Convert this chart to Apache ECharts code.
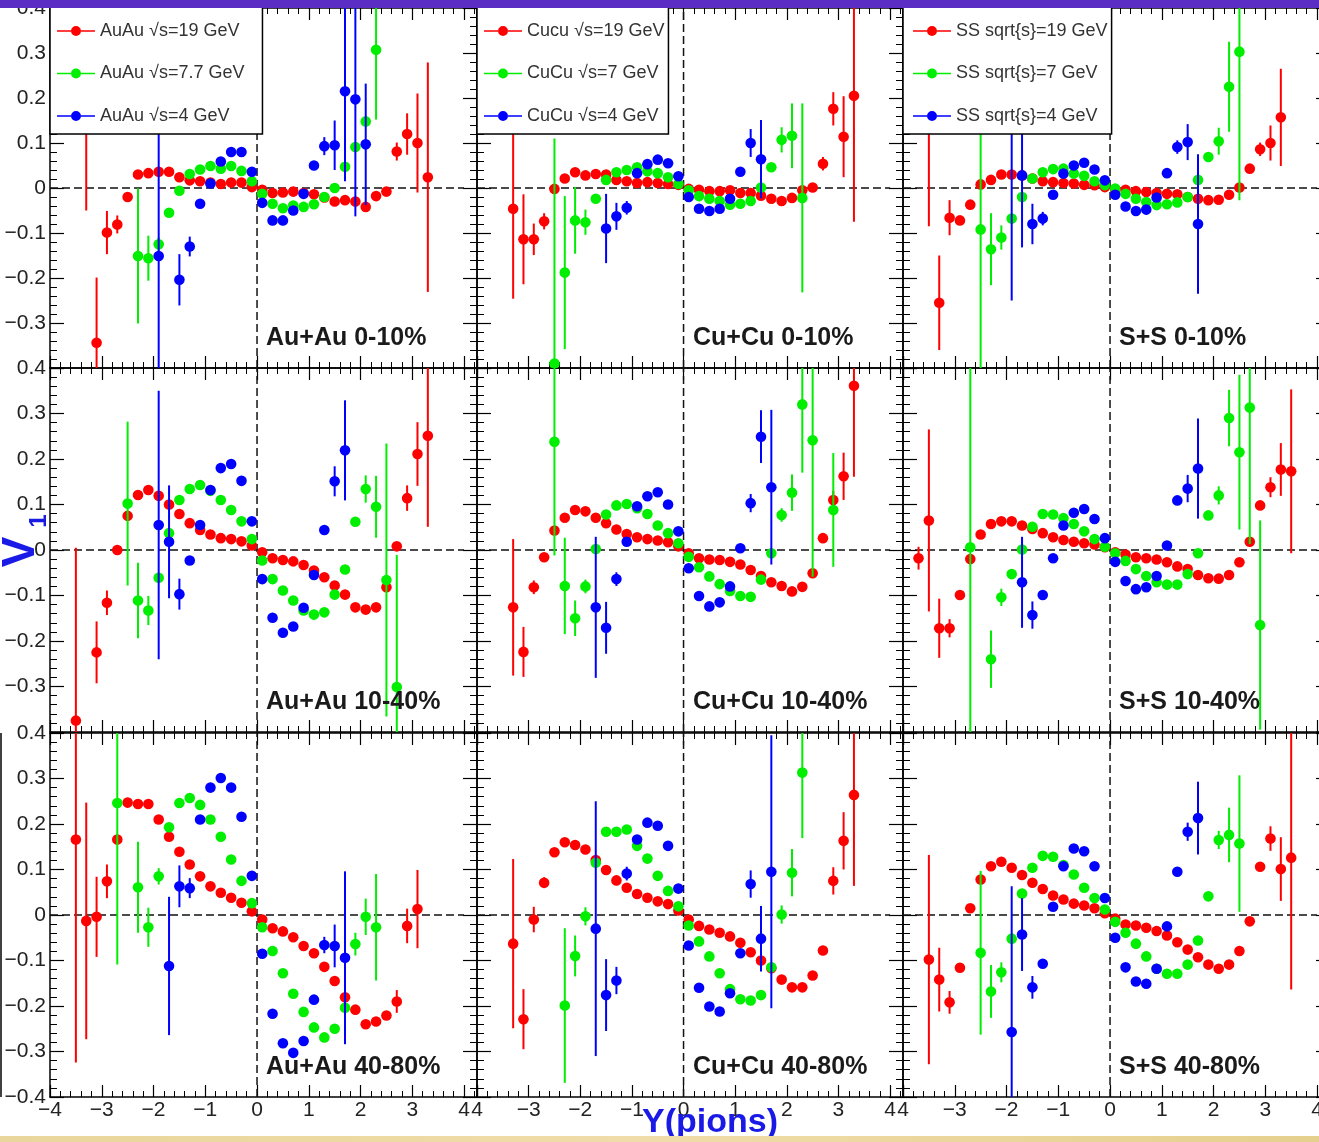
<!DOCTYPE html>
<html>
<head>
<meta charset="utf-8">
<title>v1 vs Y(pions)</title>
<script src="https://cdn.jsdelivr.net/npm/echarts@6.0.0/dist/echarts.min.js"></script>
<style>
    html, body {margin: 0; padding: 0; background: #fff;}
    #chart {width: 1319px; height: 1142px;}
</style>
</head>
<body>
<div id="chart"></div>
<script>
// each point: [Y(pions), v1, error]
// ---- 0-10% ----
const auau0_19 = [[-3.3,0.18,0.23],[-3.1,-0.344,0.145],[-2.9,-0.099,0.048],[-2.7,-0.081,0.02],[-2.5,-0.02,0],[-2.3,0.03,0],[-2.1,0.033,0],[-1.9,0.036,0],[-1.7,0.036,0],[-1.5,0.024,0],[-1.3,0.017,0],[-1.1,0.015,0],[-0.9,0.012,0],[-0.7,0.009,0],[-0.5,0.012,0],[-0.3,0.012,0],[-0.1,0.002,0],
    [0.1,-0.004,0],[0.3,-0.011,0],[0.5,-0.01,0],[0.7,-0.008,0],[0.9,-0.011,0],[1.1,-0.014,0],[1.3,-0.021,0],[1.5,-0.03,0],[1.7,-0.027,0],[1.9,-0.03,0],[2.1,-0.042,0],[2.3,-0.018,0],[2.5,-0.008,0],[2.7,0.081,0.02],[2.9,0.12,0.046],[3.1,0.1,0.11],[3.3,0.024,0.255]];
const auau0_77 = [[-2.3,-0.151,0.15],[-2.1,-0.156,0.05],[-1.9,-0.125,0.015],[-1.7,-0.055,0],[-1.5,-0.006,0],[-1.3,0.031,0],[-1.1,0.041,0],[-0.9,0.049,0],[-0.7,0.043,0],[-0.5,0.049,0],[-0.3,0.038,0],[-0.1,0.015,0],
    [0.1,-0.013,0],[0.3,-0.035,0],[0.5,-0.045,0],[0.7,-0.039,0],[0.9,-0.042,0],[1.1,-0.036,0],[1.3,-0.02,0],[1.5,0.0,0],[1.7,0.047,0],[1.9,0.091,0],[2.1,0.148,0],[2.3,0.307,0.155]];
const auau0_4 = [[-1.9,-0.151,0.3],[-1.5,-0.204,0.057],[-1.3,-0.13,0.022],[-1.1,-0.035,0],[-0.9,0.01,0],[-0.7,0.059,0],[-0.5,0.08,0],[-0.3,0.08,0],[-0.1,0.036,0],
    [0.1,-0.033,0],[0.3,-0.072,0],[0.5,-0.072,0],[0.7,-0.05,0],[0.9,-0.013,0],[1.1,0.05,0],[1.3,0.093,0.02],[1.5,0.095,0.055],[1.7,0.215,0.2],[1.9,0.197,0.26],[2.1,0.097,0.135]];
const cucu0_19 = [[-3.3,-0.046,0.2],[-3.1,-0.114,0.1],[-2.9,-0.114,0.035],[-2.7,-0.074,0.018],[-2.5,-0.002,0],[-2.3,0.021,0],[-2.1,0.035,0],[-1.9,0.028,0],[-1.7,0.031,0],[-1.5,0.03,0],[-1.3,0.018,0],[-1.1,0.015,0],[-0.9,0.011,0],[-0.7,0.013,0],[-0.5,0.011,0],[-0.3,0.009,0],[-0.1,0.007,0],
    [0.1,-0.002,0],[0.3,-0.004,0],[0.5,-0.007,0],[0.7,-0.007,0],[0.9,-0.005,0],[1.1,-0.011,0],[1.3,-0.011,0],[1.5,-0.017,0],[1.7,-0.024,0],[1.9,-0.029,0],[2.1,-0.022,0],[2.3,-0.005,0],[2.5,0.001,0],[2.7,0.054,0.015],[2.9,0.176,0.037],[3.1,0.114,0.09],[3.3,0.205,0.28]];
const cucu0_7 = [[-2.5,-0.39,0.5],[-2.3,-0.188,0.17],[-2.1,-0.072,0.074],[-1.9,-0.076,0.028],[-1.7,-0.024,0.01],[-1.5,0.018,0],[-1.3,0.035,0],[-1.1,0.04,0],[-0.9,0.046,0],[-0.7,0.037,0],[-0.5,0.033,0],[-0.3,0.024,0],[-0.1,0.009,0],
    [0.1,-0.005,0],[0.3,-0.018,0],[0.5,-0.024,0],[0.7,-0.029,0],[0.9,-0.037,0],[1.1,-0.035,0],[1.3,-0.029,0],[1.5,0.001,0],[1.7,0.046,0],[1.9,0.107,0.028],[2.1,0.116,0.072],[2.3,-0.022,0.21]];
const cucu0_4 = [[-1.5,-0.09,0.077],[-1.3,-0.063,0.03],[-1.1,-0.044,0.015],[-0.9,0.033,0],[-0.7,0.053,0],[-0.5,0.063,0],[-0.3,0.055,0],[-0.1,0.026,0],
    [0.1,-0.02,0],[0.3,-0.046,0],[0.5,-0.051,0],[0.7,-0.046,0],[0.9,-0.024,0],[1.1,0.036,0.01],[1.3,0.1,0.031],[1.5,0.064,0.087]];
const ss0_19 = [[-3.5,0.2,0.285],[-3.3,-0.255,0.105],[-3.1,-0.066,0.039],[-2.9,-0.072,0],[-2.7,-0.037,0],[-2.5,0.008,0],[-2.3,0.018,0],[-2.1,0.03,0],[-1.9,0.03,0],[-1.7,0.028,0],[-1.5,0.021,0],[-1.3,0.015,0],[-1.1,0.013,0],[-0.9,0.011,0],[-0.7,0.01,0],[-0.5,0.007,0],[-0.3,0.006,0],[-0.1,0.002,0],
    [0.1,-0.004,0],[0.3,-0.004,0],[0.5,-0.007,0],[0.7,-0.009,0],[0.9,-0.011,0],[1.1,-0.013,0],[1.3,-0.014,0],[1.5,-0.02,0],[1.7,-0.024,0],[1.9,-0.027,0],[2.1,-0.026,0],[2.3,-0.015,0],[2.5,0.001,0],[2.7,0.043,0],[2.9,0.086,0.015],[3.1,0.1,0.039],[3.3,0.157,0.108]];
const ss0_7 = [[-2.5,-0.092,0.4],[-2.3,-0.136,0.08],[-2.1,-0.11,0.027],[-1.9,-0.068,0],[-1.7,-0.02,0],[-1.5,0.021,0],[-1.3,0.035,0],[-1.1,0.042,0],[-0.9,0.043,0],[-0.7,0.032,0],[-0.5,0.027,0],[-0.3,0.015,0],[-0.1,0.006,0],
    [0.1,-0.001,0],[0.3,-0.013,0],[0.5,-0.024,0],[0.7,-0.031,0],[0.9,-0.038,0],[1.1,-0.036,0],[1.3,-0.032,0],[1.5,-0.02,0],[1.7,0.018,0],[1.9,0.069,0],[2.1,0.104,0.03],[2.3,0.225,0.1],[2.5,0.303,0.33]];
const ss0_4 = [[-1.9,0.15,0.4],[-1.7,0.028,0.16],[-1.5,-0.08,0.045],[-1.3,-0.068,0.015],[-1.1,-0.015,0],[-0.9,0.032,0],[-0.7,0.05,0],[-0.5,0.056,0],[-0.3,0.041,0],[-0.1,0.017,0],
    [0.1,-0.015,0],[0.3,-0.041,0],[0.5,-0.051,0],[0.7,-0.048,0],[0.9,-0.021,0],[1.1,0.033,0],[1.3,0.091,0.015],[1.5,0.102,0.04],[1.7,-0.08,0.155]];
// ---- 10-40% ----
const auau1_19 = [[-3.5,-0.375,0.38],[-3.1,-0.225,0.068],[-2.9,-0.116,0.027],[-2.7,0.0,0],[-2.5,0.075,0],[-2.3,0.121,0],[-2.1,0.132,0],[-1.9,0.119,0],[-1.7,0.1,0],[-1.5,0.079,0],[-1.3,0.059,0],[-1.1,0.044,0],[-0.9,0.034,0],[-0.7,0.026,0],[-0.5,0.024,0],[-0.3,0.019,0],[-0.1,0.01,0],
    [0.1,-0.005,0],[0.3,-0.018,0],[0.5,-0.022,0],[0.7,-0.025,0],[0.9,-0.033,0],[1.1,-0.045,0],[1.3,-0.06,0],[1.5,-0.078,0],[1.7,-0.098,0],[1.9,-0.126,0],[2.1,-0.131,0],[2.3,-0.126,0],[2.5,-0.082,0],[2.7,0.008,0],[2.9,0.114,0.028],[3.1,0.211,0.07],[3.3,0.251,0.2]];
const auau1_77 = [[-2.5,0.102,0.18],[-2.3,-0.111,0.083],[-2.1,-0.133,0.032],[-1.9,-0.061,0],[-1.7,0.037,0],[-1.5,0.11,0],[-1.3,0.134,0],[-1.1,0.143,0],[-0.9,0.13,0],[-0.7,0.11,0],[-0.5,0.088,0],[-0.3,0.063,0],[-0.1,0.024,0],
    [0.1,-0.023,0],[0.3,-0.064,0],[0.5,-0.089,0],[0.7,-0.111,0],[0.9,-0.133,0],[1.1,-0.142,0],[1.3,-0.137,0],[1.5,-0.098,0],[1.7,-0.043,0],[1.9,0.062,0],[2.1,0.134,0.03],[2.3,0.095,0.068],[2.5,-0.066,0.3],[2.7,-0.301,0.29]];
const auau1_4 = [[-1.9,0.055,0.295],[-1.7,0.018,0.124],[-1.5,-0.097,0.034],[-1.3,-0.023,0],[-1.1,0.055,0],[-0.9,0.132,0],[-0.7,0.18,0],[-0.5,0.189,0],[-0.3,0.152,0],[-0.1,0.063,0],
    [0.1,-0.064,0],[0.3,-0.149,0],[0.5,-0.182,0],[0.7,-0.168,0],[0.9,-0.127,0],[1.1,-0.055,0],[1.3,0.044,0.01],[1.5,0.151,0.033],[1.7,0.219,0.11]];
const cucu1_19 = [[-3.3,-0.126,0.15],[-3.1,-0.224,0.055],[-2.9,-0.082,0.015],[-2.7,-0.016,0],[-2.5,0.043,0],[-2.3,0.071,0],[-2.1,0.088,0],[-1.9,0.085,0],[-1.7,0.071,0],[-1.5,0.059,0],[-1.3,0.045,0],[-1.1,0.035,0],[-0.9,0.028,0],[-0.7,0.024,0],[-0.5,0.021,0],[-0.3,0.017,0],[-0.1,0.008,0],
    [0.1,-0.007,0],[0.3,-0.018,0],[0.5,-0.021,0],[0.7,-0.022,0],[0.9,-0.026,0],[1.1,-0.032,0],[1.3,-0.044,0],[1.5,-0.057,0],[1.7,-0.071,0],[1.9,-0.079,0],[2.1,-0.091,0],[2.3,-0.081,0],[2.5,-0.051,0],[2.7,0.026,0],[2.9,0.11,0.02],[3.1,0.162,0.052],[3.3,0.361,0.2]];
const cucu1_7 = [[-2.5,0.238,0.25],[-2.3,-0.079,0.106],[-2.1,-0.15,0.039],[-1.9,-0.08,0.015],[-1.7,0.002,0],[-1.5,0.078,0],[-1.3,0.098,0],[-1.1,0.101,0],[-0.9,0.092,0],[-0.7,0.079,0],[-0.5,0.054,0],[-0.3,0.037,0],[-0.1,0.015,0],
    [0.1,-0.015,0],[0.3,-0.038,0],[0.5,-0.058,0],[0.7,-0.075,0],[0.9,-0.09,0],[1.1,-0.101,0],[1.3,-0.103,0],[1.5,-0.065,0],[1.7,-0.007,0],[1.9,0.077,0.015],[2.1,0.126,0.04],[2.3,0.32,0.15],[2.5,0.241,0.3],[2.9,0.088,0.125]];
const cucu1_4 = [[-1.7,-0.126,0.155],[-1.5,-0.171,0.057],[-1.3,-0.064,0.015],[-1.1,0.018,0],[-0.9,0.096,0],[-0.7,0.118,0],[-0.5,0.127,0],[-0.3,0.1,0],[-0.1,0.041,0],
    [0.1,-0.04,0],[0.3,-0.101,0],[0.5,-0.124,0],[0.7,-0.115,0],[0.9,-0.08,0],[1.1,0.004,0],[1.3,0.103,0.02],[1.5,0.249,0.058],[1.7,0.138,0.17]];
const ss1_19 = [[-3.7,-0.018,0.025],[-3.5,0.065,0.2],[-3.3,-0.172,0.065],[-3.1,-0.172,0.02],[-2.9,-0.099,0],[-2.7,-0.02,0],[-2.5,0.034,0],[-2.3,0.057,0],[-2.1,0.063,0],[-1.9,0.063,0],[-1.7,0.054,0],[-1.5,0.046,0],[-1.3,0.037,0],[-1.1,0.028,0],[-0.9,0.022,0],[-0.7,0.018,0],[-0.5,0.015,0],[-0.3,0.012,0],[-0.1,0.006,0],
    [0.1,-0.005,0],[0.3,-0.01,0],[0.5,-0.016,0],[0.7,-0.018,0],[0.9,-0.021,0],[1.1,-0.027,0],[1.3,-0.036,0],[1.5,-0.042,0],[1.7,-0.055,0],[1.9,-0.062,0],[2.1,-0.063,0],[2.3,-0.055,0],[2.5,-0.027,0],[2.7,0.018,0],[2.9,0.098,0],[3.1,0.138,0.022],[3.3,0.177,0.058],[3.5,0.173,0.18]];
const ss1_7 = [[-2.7,0.006,0.45],[-2.3,-0.24,0.063],[-2.1,-0.104,0.019],[-1.9,-0.053,0],[-1.7,0.001,0],[-1.5,0.051,0],[-1.3,0.079,0],[-1.1,0.078,0],[-0.9,0.07,0],[-0.7,0.057,0],[-0.5,0.041,0],[-0.3,0.024,0],[-0.1,0.007,0],
    [0.1,-0.007,0],[0.3,-0.024,0],[0.5,-0.042,0],[0.7,-0.057,0],[0.9,-0.071,0],[1.1,-0.076,0],[1.3,-0.076,0],[1.5,-0.053,0],[1.7,-0.007,0],[1.9,0.076,0],[2.1,0.12,0.02],[2.3,0.29,0.062],[2.5,0.215,0.17],[2.7,0.313,0.3],[2.9,-0.165,0.23]];
const ss1_4 = [[-1.7,-0.071,0.1],[-1.5,-0.143,0.03],[-1.3,-0.099,0],[-1.1,-0.018,0],[-0.9,0.054,0],[-0.7,0.082,0],[-0.5,0.09,0],[-0.3,0.068,0],[-0.1,0.026,0],
    [0.1,-0.026,0],[0.3,-0.068,0],[0.5,-0.086,0],[0.7,-0.082,0],[0.9,-0.057,0],[1.1,0.01,0],[1.3,0.109,0],[1.5,0.135,0.03],[1.7,0.179,0.11]];
// ---- 40-80% ----
const auau2_19 = [[-3.5,0.166,0.49],[-3.3,-0.013,0.26],[-3.1,-0.004,0.088],[-2.9,0.074,0.037],[-2.7,0.166,0],[-2.5,0.247,0],[-2.3,0.244,0],[-2.1,0.244,0],[-1.9,0.21,0],[-1.7,0.172,0],[-1.5,0.139,0],[-1.3,0.111,0],[-1.1,0.085,0],[-0.9,0.063,0],[-0.7,0.049,0],[-0.5,0.038,0],[-0.3,0.027,0],[-0.1,0.008,0],
    [0.1,-0.01,0],[0.3,-0.029,0],[0.5,-0.036,0],[0.7,-0.049,0],[0.9,-0.068,0],[1.1,-0.084,0],[1.3,-0.114,0],[1.5,-0.145,0],[1.7,-0.181,0],[1.9,-0.208,0],[2.1,-0.24,0],[2.3,-0.234,0],[2.5,-0.221,0],[2.7,-0.19,0.025],[2.9,-0.024,0.038],[3.1,0.013,0.086]];
const auau2_77 = [[-2.7,0.246,0.355],[-2.3,0.061,0.1],[-2.1,-0.027,0.043],[-1.9,0.085,0.018],[-1.7,0.193,0],[-1.5,0.246,0],[-1.3,0.257,0],[-1.1,0.242,0],[-0.9,0.21,0],[-0.7,0.172,0],[-0.5,0.122,0],[-0.3,0.075,0],[-0.1,0.026,0],
    [0.1,-0.027,0],[0.3,-0.079,0],[0.5,-0.128,0],[0.7,-0.173,0],[0.9,-0.213,0],[1.1,-0.247,0],[1.3,-0.269,0],[1.5,-0.25,0],[1.7,-0.204,0],[1.9,-0.064,0.025],[2.1,-0.004,0.04],[2.3,-0.027,0.117]];
const auau2_4 = [[-1.7,-0.112,0.152],[-1.5,0.063,0.046],[-1.3,0.059,0.022],[-1.1,0.21,0],[-0.9,0.28,0],[-0.7,0.301,0],[-0.5,0.28,0],[-0.3,0.216,0],[-0.1,0.086,0],
    [0.1,-0.085,0],[0.3,-0.217,0],[0.5,-0.282,0],[0.7,-0.303,0],[0.9,-0.277,0],[1.1,-0.186,0],[1.3,-0.066,0.018],[1.5,-0.068,0.047],[1.7,-0.094,0.19]];
const cucu2_19 = [[-3.3,-0.063,0.186],[-3.1,-0.229,0.066],[-2.9,-0.01,0.028],[-2.7,0.071,0.012],[-2.5,0.138,0],[-2.3,0.16,0],[-2.1,0.154,0],[-1.9,0.144,0],[-1.7,0.121,0],[-1.5,0.099,0],[-1.3,0.076,0],[-1.1,0.06,0],[-0.9,0.046,0],[-0.7,0.038,0],[-0.5,0.03,0],[-0.3,0.024,0],[-0.1,0.01,0],
    [0.1,-0.01,0],[0.3,-0.024,0],[0.5,-0.032,0],[0.7,-0.039,0],[0.9,-0.047,0],[1.1,-0.061,0],[1.3,-0.082,0],[1.5,-0.1,0],[1.7,-0.117,0],[1.9,-0.142,0],[2.1,-0.159,0],[2.3,-0.159,0],[2.5,-0.133,0],[2.7,-0.078,0.01],[2.9,0.075,0.03],[3.1,0.163,0.063],[3.3,0.264,0.2]];
const cucu2_7 = [[-2.3,-0.199,0.17],[-2.1,-0.09,0.045],[-1.9,-0.003,0.02],[-1.7,0.115,0],[-1.5,0.183,0],[-1.3,0.183,0],[-1.1,0.188,0],[-0.9,0.152,0],[-0.7,0.124,0],[-0.5,0.086,0],[-0.3,0.053,0],[-0.1,0.019,0],
    [0.1,-0.023,0],[0.3,-0.058,0],[0.5,-0.091,0],[0.7,-0.128,0],[0.9,-0.163,0],[1.1,-0.185,0],[1.3,-0.188,0],[1.5,-0.176,0],[1.7,-0.115,0],[1.9,0.001,0.02],[2.1,0.093,0.052],[2.3,0.313,0.144]];
const cucu2_4 = [[-1.7,-0.03,0.28],[-1.5,-0.176,0.079],[-1.3,-0.144,0.03],[-1.1,0.091,0.015],[-0.9,0.166,0],[-0.7,0.203,0],[-0.5,0.196,0],[-0.3,0.152,0],[-0.1,0.058,0],
    [0.1,-0.067,0],[0.3,-0.16,0],[0.5,-0.201,0],[0.7,-0.212,0],[0.9,-0.172,0],[1.1,-0.084,0],[1.3,0.068,0.03],[1.5,-0.052,0.072],[1.7,0.095,0.3]];
const ss2_19 = [[-3.5,-0.098,0.23],[-3.3,-0.142,0.07],[-3.1,-0.192,0.025],[-2.9,-0.116,0],[-2.7,0.015,0],[-2.5,0.078,0],[-2.3,0.107,0],[-2.1,0.117,0],[-1.9,0.104,0],[-1.7,0.088,0],[-1.5,0.071,0],[-1.3,0.057,0],[-1.1,0.043,0],[-0.9,0.034,0],[-0.7,0.025,0],[-0.5,0.021,0],[-0.3,0.015,0],[-0.1,0.004,0],
    [0.1,-0.008,0],[0.3,-0.021,0],[0.5,-0.023,0],[0.7,-0.028,0],[0.9,-0.035,0],[1.1,-0.045,0],[1.3,-0.06,0],[1.5,-0.076,0],[1.7,-0.093,0],[1.9,-0.109,0],[2.1,-0.118,0],[2.3,-0.109,0],[2.5,-0.079,0],[2.7,-0.014,0],[2.9,0.106,0],[3.1,0.168,0.027],[3.3,0.101,0.07],[3.5,0.126,0.29]];
const ss2_7 = [[-2.5,-0.083,0.18],[-2.3,-0.168,0.058],[-2.1,-0.126,0.022],[-1.9,-0.052,0],[-1.7,0.047,0],[-1.5,0.104,0],[-1.3,0.13,0],[-1.1,0.128,0],[-0.9,0.11,0],[-0.7,0.089,0],[-0.5,0.06,0],[-0.3,0.0375,0],[-0.1,0.012,0],
    [0.1,-0.015,0],[0.3,-0.039,0],[0.5,-0.063,0],[0.7,-0.091,0],[0.9,-0.118,0],[1.1,-0.129,0],[1.3,-0.129,0],[1.5,-0.109,0],[1.7,-0.056,0],[1.9,0.041,0],[2.1,0.165,0.02],[2.3,0.176,0.06],[2.5,0.157,0.15]];
const ss2_4 = [[-1.9,-0.257,0.32],[-1.7,-0.043,0.08],[-1.5,-0.159,0.025],[-1.3,-0.107,0],[-1.1,0.018,0],[-0.9,0.107,0],[-0.7,0.146,0],[-0.5,0.14,0],[-0.3,0.107,0],[-0.1,0.0375,0],
    [0.1,-0.05,0],[0.3,-0.115,0],[0.5,-0.146,0],[0.7,-0.151,0],[0.9,-0.118,0],[1.1,-0.025,0],[1.3,0.095,0],[1.5,0.183,0.02],[1.7,0.213,0.08]];

const legendNames = [
    ['AuAu √s=19 GeV', 'AuAu √s=7.7 GeV', 'AuAu √s=4 GeV'],
    ['Cucu √s=19 GeV', 'CuCu √s=7 GeV', 'CuCu √s=4 GeV'],
    ['SS sqrt{s}=19 GeV', 'SS sqrt{s}=7 GeV', 'SS sqrt{s}=4 GeV']
];
const centralities = ['0-10%', '10-40%', '40-80%'];
const systemLabels = ['Au+Au', 'Cu+Cu', 'S+S'];
const panelData = [
    [auau0_19, auau0_77, auau0_4], [cucu0_19, cucu0_7, cucu0_4], [ss0_19, ss0_7, ss0_4],
    [auau1_19, auau1_77, auau1_4], [cucu1_19, cucu1_7, cucu1_4], [ss1_19, ss1_7, ss1_4],
    [auau2_19, auau2_77, auau2_4], [cucu2_19, cucu2_7, cucu2_4], [ss2_19, ss2_7, ss2_4]
];
const colors = ['#ff0000', '#00ee00', '#0000ff'];

// layout
const colLeft = [50, 477, 903];
const colWidth = [427, 426, 427];
const rowTop = [8, 368, 733];
const rowHeight = [360, 364, 364];
const xMax = 4.25;
const fontFamily = '"Liberation Sans", Arial, sans-serif';

const minus = (s) => s.charAt(0) === '-' ? '\u2212' + s.slice(1) : s;

const renderPoint = (params, api) => {
    const x = api.value(0), y = api.value(1), e = api.value(2);
    const p = api.coord([x, y]);
    const top = api.coord([x, y + e]);
    const bot = api.coord([x, y - e]);
    const color = api.visual('color');
    return {
        type: 'group',
        children: [
            {type: 'line', shape: {x1: p[0], y1: top[1], x2: p[0], y2: bot[1]}, style: {stroke: color, lineWidth: 2}},
            {type: 'circle', shape: {cx: p[0], cy: p[1], r: 5.3}, style: {fill: color}}
        ]
    };
};

const grids = [], xAxes = [], yAxes = [], series = [], graphics = [];

for (let r = 0; r < 3; r++) {
    for (let c = 0; c < 3; c++) {
        const i = r * 3 + c;
        grids.push({left: colLeft[c], top: rowTop[r], width: colWidth[c], height: rowHeight[r],
            containLabel: false, outerBoundsMode: 'none'});
        const xBase = {
            gridIndex: i, type: 'value', min: -4, max: xMax, interval: 1,
            axisLine: {onZero: false, lineStyle: {color: '#000', width: 1.5}},
            axisTick: {inside: true, length: 12, lineStyle: {color: '#000', width: 1.2}},
            minorTick: {show: true, splitNumber: 5, length: 6, lineStyle: {color: '#000', width: 1}},
            splitLine: {show: false}, minorSplitLine: {show: false}
        };
        xAxes.push(Object.assign({}, xBase, {
            position: 'bottom',
            axisLabel: {
                show: r === 2, margin: 3, fontSize: 21, color: '#222', fontFamily: fontFamily,
                formatter: (v) => {
                    if (Math.abs(v - Math.round(v)) > 1e-6) return '';
                    const n = Math.round(v);
                    if (n === -4 && c > 0) return '4';
                    return minus(String(n));
                }
            }
        }));
        xAxes.push(Object.assign({}, xBase, {position: 'top', axisLabel: {show: false}}));
        const yBase = {
            gridIndex: i, type: 'value', min: -0.4, max: 0.4, interval: 0.1,
            axisLine: {onZero: false, lineStyle: {color: '#000', width: 1.5}},
            axisTick: {inside: true, length: 14, lineStyle: {color: '#000', width: 1.2}},
            minorTick: {show: true, splitNumber: 5, length: 7, lineStyle: {color: '#000', width: 1}},
            splitLine: {show: false}, minorSplitLine: {show: false}
        };
        yAxes.push(Object.assign({}, yBase, {
            position: 'left',
            axisLabel: {
                show: c === 0, margin: 4, fontSize: 21, color: '#222', fontFamily: fontFamily,
                formatter: (v) => {
                    const n = Math.round(v * 10) / 10;
                    if (n === -0.4 && r < 2) return '';
                    return minus(String(n));
                }
            }
        }));
        yAxes.push(Object.assign({}, yBase, {position: 'right', axisLabel: {show: false}}));

        // dashed zero lines
        series.push({
            type: 'line', xAxisIndex: 2 * i, yAxisIndex: 2 * i, data: [[-4, 0], [4, 0]],
            symbol: 'none', silent: true, z: 1,
            lineStyle: {color: '#111', width: 1.5, type: [8, 4]}
        });
        series.push({
            type: 'line', xAxisIndex: 2 * i, yAxisIndex: 2 * i, data: [[0, -0.4], [0, 0.4]],
            symbol: 'none', silent: true, z: 1,
            lineStyle: {color: '#111', width: 1.5, type: [8, 4]}
        });

        panelData[i].forEach((arr, k) => {
            series.push({
                name: r === 0 ? legendNames[c][k] : legendNames[c][k] + ' ' + centralities[r],
                type: 'custom', xAxisIndex: 2 * i, yAxisIndex: 2 * i,
                data: arr, encode: {x: 0, y: 1}, renderItem: renderPoint,
                itemStyle: {color: colors[k]}, clip: true, z: 2 + k
            });
        });

        graphics.push({
            type: 'text', z: 50,
            x: colLeft[c] + 216, y: rowTop[r] + rowHeight[r] - 30,
            style: {
                text: systemLabels[c] + ' ' + centralities[r],
                font: 'bold 25px ' + fontFamily, fill: '#1a1a1a',
                textAlign: 'left', align: 'left', textVerticalAlign: 'middle', verticalAlign: 'middle'
            }
        });
    }
}

const legendIcon = 'path://M0,4.2L14,4.2L14,5.8L0,5.8Z M24,4.2L38,4.2L38,5.8L24,5.8Z M14,5A5,5 0 1,1 24,5A5,5 0 1,1 14,5Z';
const legendPadLeft = [7, 7, 10];
const legendPadRight = [18, 4, 4];
const legends = [0, 1, 2].map((c) => ({
    left: colLeft[c], top: 1, orient: 'vertical', data: legendNames[c],
    icon: legendIcon, itemWidth: 38, itemHeight: 10, itemGap: 24.5,
    padding: [21, legendPadRight[c], 9, legendPadLeft[c]],
    backgroundColor: '#fff', borderColor: '#000', borderWidth: 1.5, borderRadius: 0,
    itemStyle: {borderWidth: 0},
    textStyle: {fontSize: 18, color: '#333', fontFamily: fontFamily},
    selectedMode: false, z: 20
}));

graphics.push(
    {type: 'rect', z: 100, shape: {x: 0, y: 0, width: 1319, height: 8}, style: {fill: '#5b2dc4'}},
    {type: 'rect', z: 100, shape: {x: 0, y: 1136, width: 1319, height: 6},
        style: {fill: new echarts.graphic.LinearGradient(0, 0, 1, 0, [
            {offset: 0, color: '#e9d69c'}, {offset: 0.5, color: '#efdca8'}, {offset: 1, color: '#e6d08e'}
        ])}},
    {type: 'line', z: 50, shape: {x1: 1, y1: 733, x2: 1, y2: 1097}, style: {stroke: '#000', lineWidth: 1.5}},
    {type: 'text', z: 60, x: 21, y: 552, rotation: Math.PI / 2,
        style: {text: 'V', font: 'bold 46px ' + fontFamily, fill: '#1a1ae6',
            textAlign: 'center', align: 'center', textVerticalAlign: 'middle', verticalAlign: 'middle'}},
    {type: 'text', z: 60, x: 39, y: 521, rotation: Math.PI / 2,
        style: {text: '1', font: 'bold 24px ' + fontFamily, fill: '#1a1ae6',
            textAlign: 'center', align: 'center', textVerticalAlign: 'middle', verticalAlign: 'middle'}},
    {type: 'text', z: 60, x: 710, y: 1123,
        style: {text: 'Y(pions)', font: 'bold 34px ' + fontFamily, fill: '#1a1ae6',
            textAlign: 'center', align: 'center', textVerticalAlign: 'middle', verticalAlign: 'middle'}}
);

const myChart = echarts.init(document.getElementById('chart'));
myChart.setOption({
    animation: false,
    backgroundColor: '#fff',
    grid: grids,
    xAxis: xAxes,
    yAxis: yAxes,
    legend: legends,
    series: series,
    graphic: graphics
});
</script>
</body>
</html>
